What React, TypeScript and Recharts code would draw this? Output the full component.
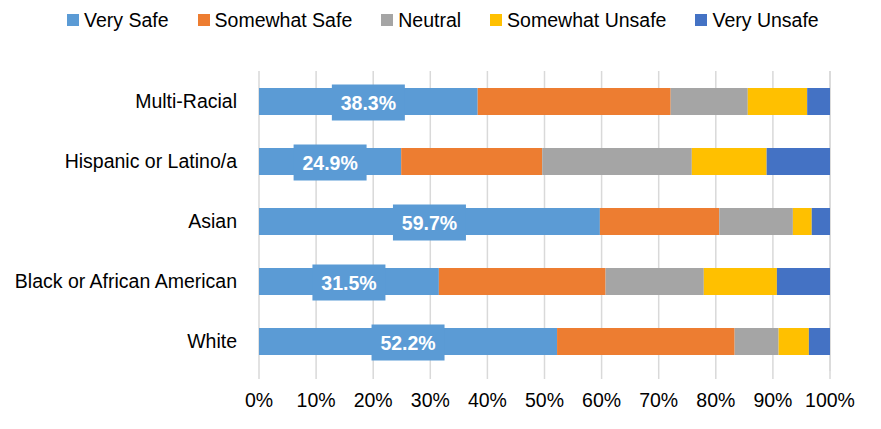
import React from 'react';
import { BarChart, Bar, XAxis, YAxis, CartesianGrid, Legend, LabelList } from 'recharts';

const categories = ['Multi-Racial', 'Hispanic or Latino/a', 'Asian', 'Black or African American', 'White'];
const verySafe = [38.3, 24.9, 59.7, 31.5, 52.2];
const somewhatSafe = [33.8, 24.7, 20.9, 29.2, 31.1];
const neutral = [13.5, 26.2, 12.9, 17.2, 7.7];
const somewhatUnsafe = [10.4, 13.1, 3.3, 12.8, 5.3];
const veryUnsafe = [4.0, 11.1, 3.2, 9.3, 3.7];
const xTicks = [0, 10, 20, 30, 40, 50, 60, 70, 80, 90, 100];

const seriesNames = ['Very Safe', 'Somewhat Safe', 'Neutral', 'Somewhat Unsafe', 'Very Unsafe'];
const seriesKeys = ['verySafe', 'somewhatSafe', 'neutral', 'somewhatUnsafe', 'veryUnsafe'];
const colors = ['#5B9BD5', '#ED7D31', '#A5A5A5', '#FFC000', '#4472C4'];

const data = categories.map((c, i) => ({
  name: c,
  verySafe: verySafe[i],
  somewhatSafe: somewhatSafe[i],
  neutral: neutral[i],
  somewhatUnsafe: somewhatUnsafe[i],
  veryUnsafe: veryUnsafe[i],
}));

const FONT = '"Liberation Sans", Arial, sans-serif';

const renderLabel = (props: any) => {
  const { x, y, width, height, value } = props;
  const cx = Number(x) + Number(width) / 2;
  const cy = Number(y) + Number(height) / 2 + 1;
  const bw = 73;
  const bh = 36;
  return (
    <g>
      <rect x={cx - bw / 2} y={cy - bh / 2} width={bw} height={bh} fill="#5B9BD5" />
      <text
        x={cx}
        y={cy}
        dy="0.36em"
        textAnchor="middle"
        fill="#ffffff"
        fontWeight="bold"
        fontSize={19.5}
        fontFamily={FONT}
      >
        {`${Number(value).toFixed(1)}%`}
      </text>
    </g>
  );
};

const renderLegend = () => (
  <div style={{ display: 'flex', alignItems: 'center', height: 22, fontFamily: FONT, fontSize: 19.5, color: '#000' }}>
    {seriesNames.map((n, i) => (
      <div key={n} style={{ display: 'flex', alignItems: 'center', marginRight: 29 }}>
        <div style={{ width: 12, height: 12, background: colors[i], marginRight: 5 }} />
        <span style={{ lineHeight: '22px' }}>{n}</span>
      </div>
    ))}
  </div>
);

export default function App() {
  return (
    <div style={{ position: 'absolute', left: 0, top: 0, width: 881, height: 429, background: '#fff' }}>
      <BarChart
        width={881}
        height={429}
        data={data}
        layout="vertical"
        margin={{ top: 49, right: 51, bottom: 0, left: 0 }}
        barSize={27}
      >
        <CartesianGrid horizontal={false} stroke="#d9d9d9" strokeWidth={1.5} />
        <XAxis
          type="number"
          domain={[0, 100]}
          ticks={xTicks}
          tickFormatter={(v: number) => `${v}%`}
          axisLine={false}
          tickLine={{ stroke: '#d9d9d9', strokeWidth: 1.5 }}
          tickSize={8}
          tickMargin={14}
          height={58}
          interval={0}
          tick={{ fill: '#000', fontSize: 19.5, fontFamily: FONT }}
        />
        <YAxis
          type="category"
          dataKey="name"
          width={259}
          axisLine={false}
          tickLine={false}
          tickSize={0}
          tickMargin={22}
          interval={0}
          tick={{ fill: '#000', fontSize: 19.5, fontFamily: FONT }}
        />
        <Legend
          verticalAlign="top"
          height={22}
          content={renderLegend}
          wrapperStyle={{ top: 9, left: 67, width: 800 }}
        />
        {seriesKeys.map((k, i) => (
          <Bar
            key={k}
            dataKey={k}
            name={seriesNames[i]}
            stackId="a"
            fill={colors[i]}
            isAnimationActive={false}
          >
            {i === 0 ? <LabelList dataKey={k} content={renderLabel} /> : null}
          </Bar>
        ))}
      </BarChart>
    </div>
  );
}
